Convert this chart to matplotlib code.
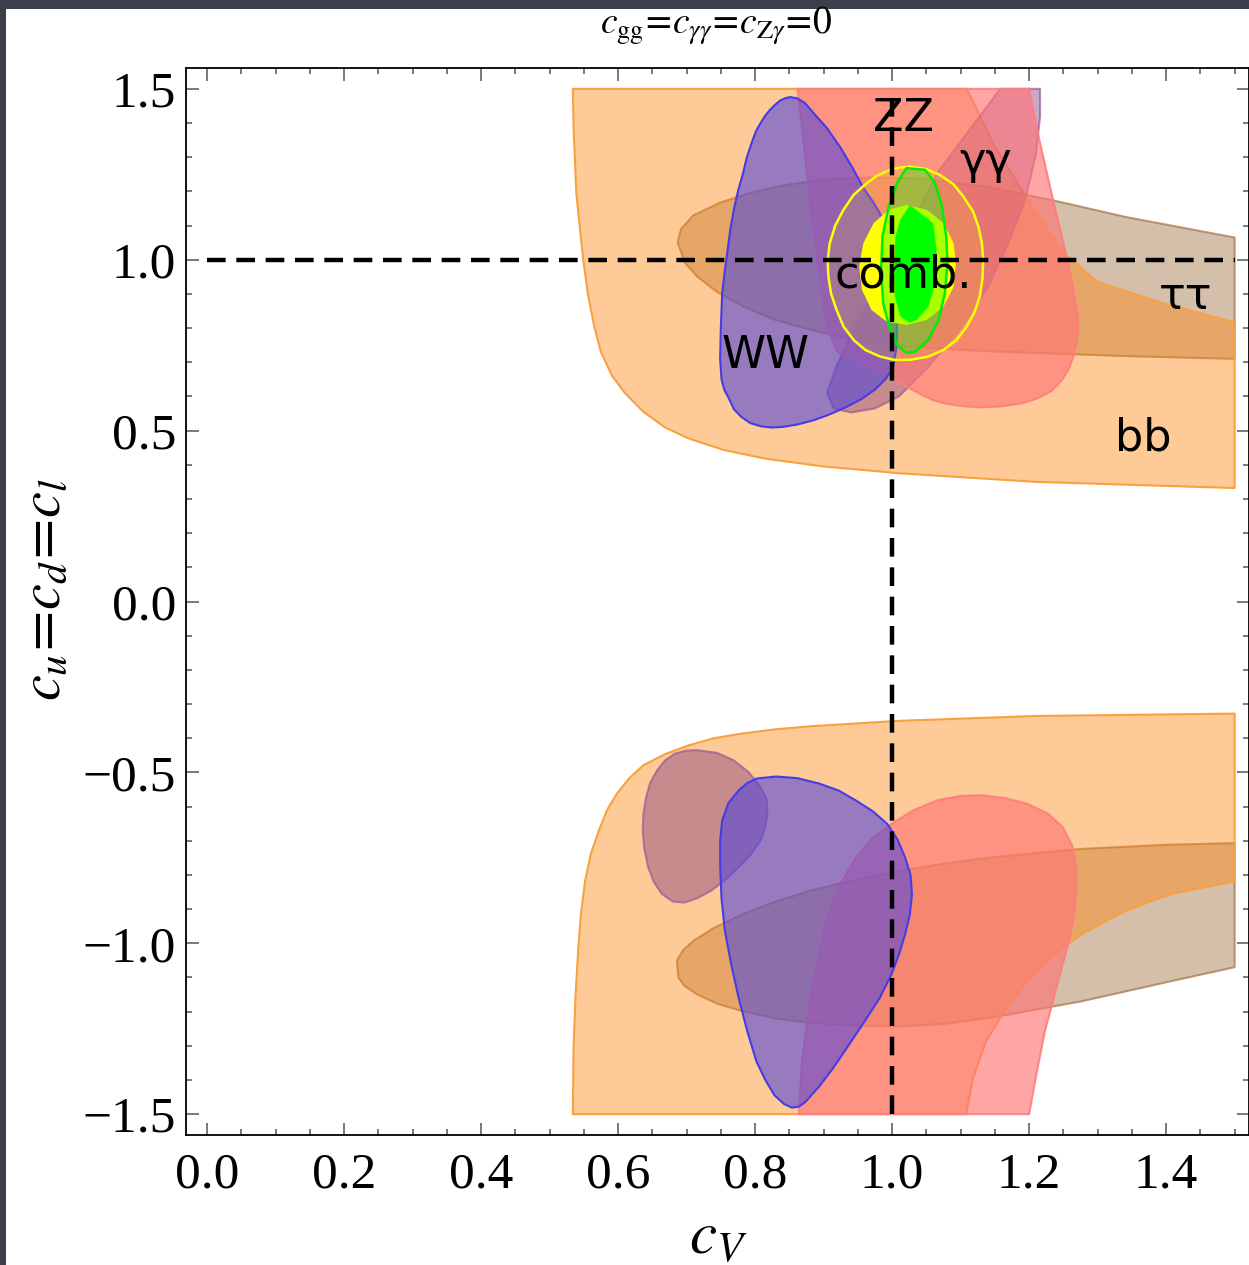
import matplotlib
matplotlib.use('Agg')
import matplotlib.pyplot as plt
from matplotlib.patches import Rectangle
from matplotlib.ticker import MultipleLocator

plt.rcParams['mathtext.fontset'] = 'stix'
plt.rcParams['font.family'] = ['Liberation Serif', 'DejaVu Serif']

# --- region outlines (c_V, c_u) ---
bb_up_x = [0.534, 0.535, 0.539, 0.549, 0.556, 0.565, 0.575, 0.591, 0.61, 0.637, 0.668, 0.703, 0.755,
           0.815, 0.9, 1.012, 1.210, 1.5,
           1.5, 1.40, 1.30, 1.25, 1.20, 1.15, 1.109]
bb_up_y = [1.5, 1.39, 1.196, 1.002, 0.9, 0.807, 0.73, 0.661, 0.61, 0.555, 0.51, 0.477, 0.443,
           0.418, 0.395, 0.375, 0.350, 0.332,
           0.817, 0.870, 0.935, 1.02, 1.17, 1.33, 1.5]
bb_lo_x = [0.534, 0.535, 0.538, 0.542, 0.546, 0.552, 0.56, 0.572, 0.584, 0.598, 0.616, 0.637, 0.668,
           0.703, 0.74, 0.782, 0.83, 0.881, 1.012, 1.210, 1.5,
           1.5, 1.407, 1.341, 1.276, 1.243, 1.197, 1.164, 1.137, 1.118, 1.108]
bb_lo_y = [-1.5, -1.307, -1.15, -1.013, -0.91, -0.817, -0.74, -0.670, -0.61, -0.563, -0.518, -0.479, -0.447,
           -0.421, -0.40, -0.386, -0.374, -0.365, -0.349, -0.335, -0.328,
           -0.819, -0.856, -0.905, -0.974, -1.023, -1.111, -1.199, -1.287, -1.395, -1.5]

tt_up_x = [0.687, 0.692, 0.710, 0.749, 0.795, 0.848, 0.9, 0.947, 1.0, 1.045, 1.144, 1.243, 1.341, 1.5,
           1.5, 1.341, 1.144, 1.012, 0.94, 0.881, 0.826, 0.782, 0.745, 0.716, 0.698]
tt_up_y = [1.05, 1.09, 1.13, 1.167, 1.197, 1.220, 1.234, 1.240, 1.240, 1.237, 1.212, 1.170, 1.125, 1.065,
           0.710, 0.718, 0.732, 0.747, 0.767, 0.795, 0.826, 0.864, 0.905, 0.950, 0.99]
tt_lo_x = [0.686, 0.695, 0.710, 0.74, 0.782, 0.83, 0.881, 0.945, 1.012, 1.08, 1.144, 1.276, 1.4, 1.5,
           1.5, 1.407, 1.276, 1.144, 1.075, 1.012, 0.945, 0.881, 0.83, 0.782, 0.745, 0.716, 0.697, 0.688]
tt_lo_y = [-1.05, -1.02, -0.993, -0.955, -0.915, -0.878, -0.846, -0.815, -0.788, -0.766, -0.749, -0.724,
           -0.712, -0.707,
           -1.070, -1.111, -1.170, -1.218, -1.236, -1.243, -1.241, -1.233, -1.22, -1.199, -1.177, -1.150,
           -1.125, -1.10]

zz_up_x = [0.862, 1.20, 1.215, 1.235, 1.25, 1.262, 1.271, 1.272, 1.270, 1.265, 1.258, 1.247, 1.232,
           1.212, 1.19, 1.16, 1.13, 1.105, 1.08, 1.06, 1.045, 1.015, 0.99, 0.955, 0.92, 0.905, 0.898,
           0.891, 0.881, 0.871]
zz_up_y = [1.5, 1.5, 1.35, 1.175, 1.05, 0.94, 0.84, 0.80, 0.76, 0.72, 0.68, 0.645, 0.615,
           0.594, 0.58, 0.571, 0.568, 0.571, 0.578, 0.589, 0.603, 0.635, 0.665, 0.695, 0.73, 0.80, 0.90,
           1.0, 1.147, 1.342]
zz_lo_x = [0.864, 0.866, 0.868, 0.874, 0.881, 0.892, 0.907, 0.925, 0.947, 0.97, 0.999, 1.03, 1.065,
           1.10, 1.131, 1.165, 1.197, 1.227, 1.249, 1.263, 1.269, 1.269, 1.266, 1.259, 1.249, 1.236,
           1.223, 1.211, 1.200]
zz_lo_y = [-1.5, -1.43, -1.356, -1.26, -1.160, -1.04, -0.915, -0.825, -0.749, -0.695, -0.651, -0.612,
           -0.582, -0.569, -0.567, -0.575, -0.592, -0.62, -0.660, -0.715, -0.778, -0.85, -0.915, -0.99,
           -1.062, -1.16, -1.258, -1.38, -1.5]

gg_up_x = [1.158, 1.10, 1.066, 1.031, 0.99, 0.949, 0.918, 0.905, 0.915, 0.94, 0.975, 1.01, 1.05,
           1.10, 1.14, 1.17, 1.195, 1.21, 1.216, 1.216]
gg_up_y = [1.5, 1.345, 1.254, 1.116, 0.975, 0.815, 0.685, 0.61, 0.565, 0.553, 0.565, 0.60, 0.68,
           0.80, 0.92, 1.05, 1.18, 1.31, 1.42, 1.5]
gg_lo_x = [0.716, 0.745, 0.769, 0.791, 0.808, 0.817, 0.818, 0.815, 0.808, 0.794, 0.776, 0.756, 0.736,
           0.716, 0.697, 0.68, 0.664, 0.652, 0.644, 0.638, 0.636, 0.637, 0.641, 0.647, 0.657, 0.668,
           0.683, 0.70]
gg_lo_y = [-0.435, -0.443, -0.465, -0.50, -0.543, -0.58, -0.621, -0.66, -0.700, -0.74, -0.778, -0.815,
           -0.846, -0.868, -0.881, -0.878, -0.856, -0.82, -0.778, -0.72, -0.670, -0.62, -0.572, -0.53,
           -0.494, -0.466, -0.445, -0.436]

ww_up_x = [0.851, 0.862, 0.873, 0.885, 0.905, 0.924, 0.942, 0.958, 0.972, 0.982, 0.990, 0.996, 1.001,
           1.004, 1.007, 1.007, 1.001, 0.99, 0.975, 0.955, 0.93, 0.907, 0.885, 0.862, 0.841, 0.825,
           0.81, 0.793, 0.78, 0.769, 0.762, 0.755, 0.751, 0.749, 0.750, 0.752, 0.756, 0.76, 0.764,
           0.769, 0.775, 0.782, 0.788, 0.795, 0.801, 0.808, 0.815, 0.822, 0.829, 0.836, 0.843]
ww_up_y = [1.476, 1.472, 1.458, 1.43, 1.385, 1.33, 1.27, 1.21, 1.17, 1.137, 1.095, 1.05, 1.0,
           0.95, 0.85, 0.75, 0.68, 0.65, 0.62, 0.592, 0.566, 0.546, 0.53, 0.518, 0.511, 0.509,
           0.512, 0.522, 0.54, 0.563, 0.593, 0.62, 0.65, 0.710, 0.80, 0.904, 0.97, 1.03, 1.09,
           1.147, 1.20, 1.25, 1.30, 1.342, 1.375, 1.40, 1.422, 1.439, 1.453, 1.465, 1.472]
ww_lo_x = [0.802, 0.831, 0.862, 0.894, 0.922, 0.947, 0.972, 0.993, 1.008, 1.019, 1.027, 1.029, 1.026,
           1.019, 1.01, 0.999, 0.982, 0.960, 0.937, 0.914, 0.894, 0.874, 0.864, 0.854, 0.842, 0.828,
           0.815, 0.802, 0.789, 0.776, 0.765, 0.756, 0.751, 0.749, 0.749, 0.752, 0.761, 0.776, 0.788]
ww_lo_y = [-0.518, -0.512, -0.517, -0.533, -0.553, -0.582, -0.614, -0.651, -0.697, -0.749, -0.80, -0.856,
           -0.915, -0.974, -1.033, -1.091, -1.16, -1.228, -1.297, -1.365, -1.418, -1.463, -1.478, -1.481,
           -1.47, -1.444, -1.40, -1.346, -1.26, -1.160, -1.06, -0.964, -0.87, -0.768, -0.70, -0.641,
           -0.59, -0.553, -0.532]

# combined fit
comb95_x = [1.026, 1.05, 1.070, 1.09, 1.104, 1.118, 1.126, 1.131, 1.133, 1.132, 1.128, 1.12, 1.109,
            1.094, 1.075, 1.052, 1.026, 1.003, 0.982, 0.961, 0.944, 0.929, 0.919, 0.911, 0.907, 0.906,
            0.909, 0.917, 0.929, 0.944, 0.963, 0.979, 0.997, 1.012]
comb95_y = [1.272, 1.265, 1.248, 1.22, 1.185, 1.142, 1.097, 1.05, 0.999, 0.945, 0.892, 0.845, 0.804,
            0.765, 0.736, 0.716, 0.707, 0.707, 0.717, 0.736, 0.765, 0.805, 0.853, 0.90, 0.951, 1.0,
            1.048, 1.10, 1.146, 1.19, 1.224, 1.247, 1.263, 1.270]
comb68_x = [1.021, 1.051, 1.075, 1.090, 1.093, 1.090, 1.075, 1.051, 1.021, 0.992, 0.970, 0.956,
            0.952, 0.958, 0.973, 0.995]
comb68_y = [1.160, 1.146, 1.107, 1.048, 0.990, 0.921, 0.863, 0.824, 0.809, 0.819, 0.853, 0.912,
            0.980, 1.048, 1.107, 1.146]
combg95_x = [1.021, 1.048, 1.063, 1.073, 1.079, 1.081, 1.077, 1.068, 1.053, 1.034, 1.021, 1.009,
             0.997, 0.987, 0.984, 0.986, 0.995, 1.007]
combg95_y = [1.268, 1.263, 1.224, 1.155, 1.068, 0.990, 0.902, 0.824, 0.765, 0.731, 0.728, 0.746,
             0.795, 0.873, 0.970, 1.068, 1.155, 1.224]
combg68_x = [1.026, 1.060, 1.065, 1.063, 1.053, 1.036, 1.026, 1.012, 1.004, 1.003, 1.005, 1.012]
combg68_y = [1.160, 1.107, 1.029, 0.931, 0.863, 0.824, 0.816, 0.834, 0.892, 0.980, 1.068, 1.117]

labels = ['ZZ', 'γγ', 'comb.', 'WW', 'ττ', 'bb']
label_x = [1.016, 1.136, 1.016, 0.815, 1.428, 1.366]
label_y = [1.414, 1.286, 0.956, 0.721, 0.891, 0.478]

fig = plt.figure(figsize=(12.49, 12.65), dpi=100, facecolor='#3b3f49')
fig.add_artist(Rectangle((6 / 1249, 0), 1, 1 - 9 / 1265, transform=fig.transFigure,
                         facecolor='white', edgecolor='none', zorder=0))
ax = fig.add_axes([186 / 1249, 1 - 1135 / 1265, 1063 / 1249, 1067 / 1265])
ax.set_facecolor('white')


def rgba(r, g, b, a):
    return (r / 255, g / 255, b / 255, a)


tt_face, tt_edge = rgba(160, 115, 67, 0.45), rgba(175, 125, 85, 0.8)
bb_face, bb_edge = rgba(253, 135, 16, 0.43), rgba(249, 160, 64, 1)
gg_face, gg_edge = rgba(126, 48, 124, 0.42), rgba(150, 90, 150, 0.7)
zz_face, zz_edge = rgba(255, 117, 117, 0.65), rgba(255, 125, 125, 0.9)
ww_face, ww_edge = rgba(84, 71, 218, 0.6), rgba(70, 60, 230, 1)

for xs, ys, fc, ec in [(tt_up_x, tt_up_y, tt_face, tt_edge), (tt_lo_x, tt_lo_y, tt_face, tt_edge),
                       (bb_up_x, bb_up_y, bb_face, bb_edge), (bb_lo_x, bb_lo_y, bb_face, bb_edge),
                       (gg_up_x, gg_up_y, gg_face, gg_edge), (gg_lo_x, gg_lo_y, gg_face, gg_edge),
                       (zz_up_x, zz_up_y, zz_face, zz_edge), (zz_lo_x, zz_lo_y, zz_face, zz_edge),
                       (ww_up_x, ww_up_y, ww_face, ww_edge), (ww_lo_x, ww_lo_y, ww_face, ww_edge)]:
    ax.fill(xs, ys, facecolor=fc, edgecolor=ec, lw=1.5, joinstyle='round')

ax.fill(comb95_x, comb95_y, facecolor=rgba(255, 255, 0, 0.13), edgecolor='#ffff00', lw=1.8,
        joinstyle='round')
ax.fill(comb68_x, comb68_y, facecolor='#ffff00', edgecolor='none')
ax.fill(combg95_x, combg95_y, facecolor=rgba(0, 255, 0, 0.33), edgecolor='#00ee00', lw=1.8,
        joinstyle='round')
ax.fill(combg68_x, combg68_y, facecolor='#00ff00', edgecolor='none')

ax.plot([0, 1.5], [1, 1], color='black', lw=3.2, dashes=(4.2, 2.4), zorder=5)
ax.plot([1, 1], [-1.5, 1.5], color='black', lw=3.2, dashes=(4.2, 2.4), zorder=5)

for t, x, y in zip(labels, label_x, label_y):
    ax.text(x, y, t, fontsize=32, family=['DejaVu Sans'], ha='center', va='center', zorder=6)

ax.set_xlim(-0.0307, 1.521)
ax.set_ylim(-1.561, 1.561)
ax.xaxis.set_major_locator(MultipleLocator(0.2))
ax.xaxis.set_minor_locator(MultipleLocator(0.05))
ax.yaxis.set_major_locator(MultipleLocator(0.5))
ax.yaxis.set_minor_locator(MultipleLocator(0.1))
ax.set_xticks([0, 0.2, 0.4, 0.6, 0.8, 1.0, 1.2, 1.4])
ax.set_xticklabels(['0.0', '0.2', '0.4', '0.6', '0.8', '1.0', '1.2', '1.4'])
ax.tick_params(which='both', direction='in', top=True, right=True, color='#555555', width=1.1,
               labelsize=37)
ax.tick_params(which='major', length=9)
ax.tick_params(which='minor', length=4.5)
ax.tick_params(axis='x', pad=12)
ax.tick_params(axis='y', pad=7)
for s in ax.spines.values():
    s.set_linewidth(1.3)
    s.set_zorder(7)

fig.text(718 / 1249, 1 - 1238 / 1265, '$c_V$', fontsize=44, ha='center', va='center')
fig.text(46 / 1249, 1 - 590 / 1265, '$c_u\\!=\\!c_d\\!=\\!c_l$', fontsize=42, rotation=90,
         ha='center', va='center')
fig.text(716 / 1249, 1 - 26 / 1265, '$c_{\\mathrm{gg}}\\!=\\!c_{\\gamma\\gamma}\\!=\\!c_{\\mathrm{Z}\\gamma}\\!=\\!0$',
         fontsize=27, ha='center', va='center')

fig.savefig('out.png', dpi=100, facecolor=fig.get_facecolor())
